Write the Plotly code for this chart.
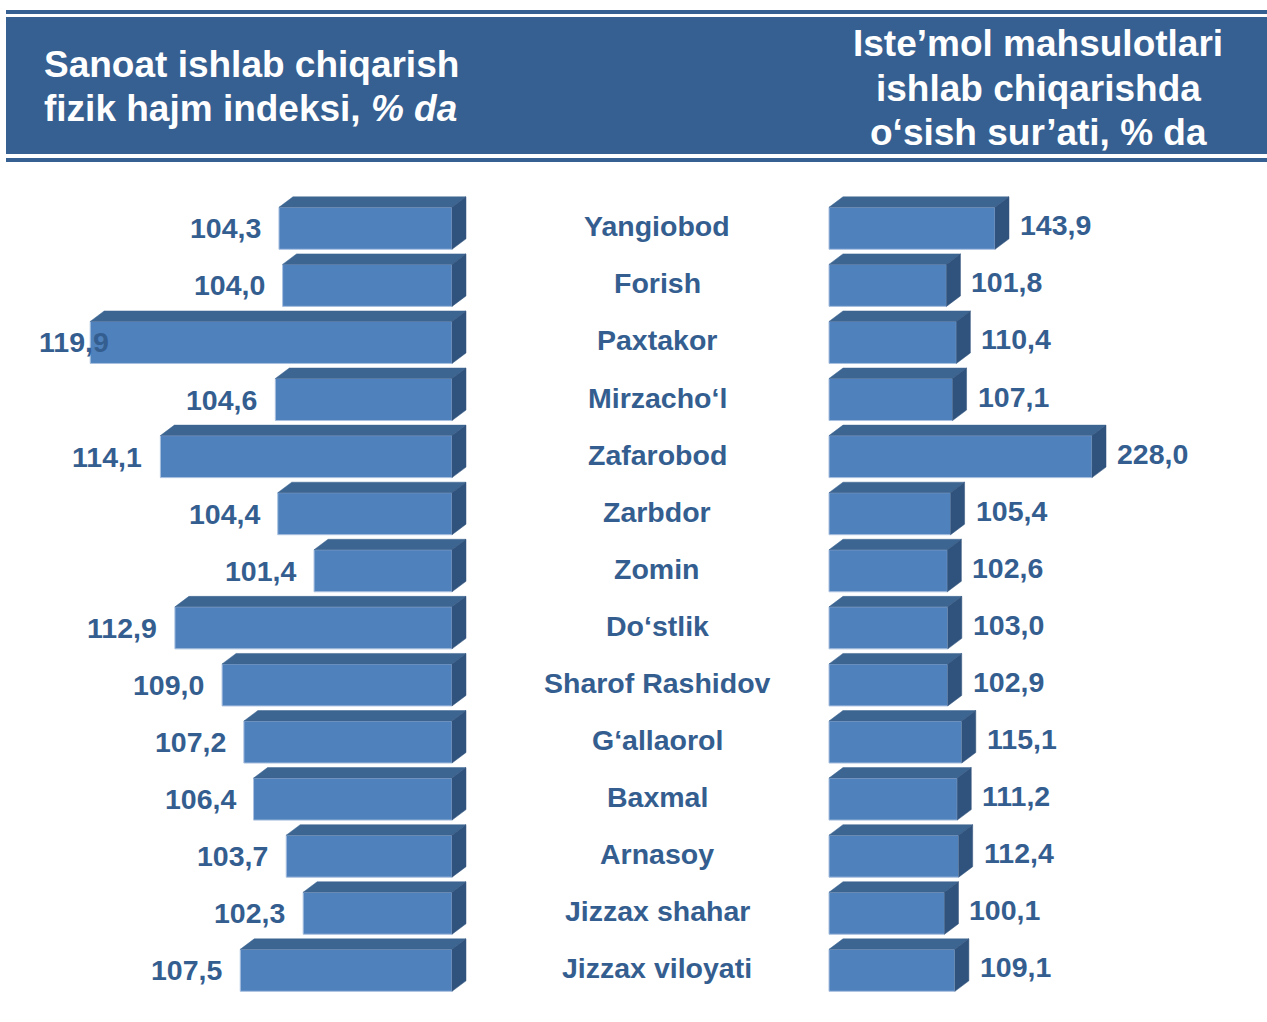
import plotly.graph_objects as go

# ---- data -------------------------------------------------------------
districts = [
    "Yangiobod", "Forish", "Paxtakor", "Mirzacho‘l", "Zafarobod", "Zarbdor",
    "Zomin", "Do‘stlik", "Sharof Rashidov", "G‘allaorol", "Baxmal",
    "Arnasoy", "Jizzax shahar", "Jizzax viloyati",
]
industry_index = [104.3, 104.0, 119.9, 104.6, 114.1, 104.4, 101.4,
                  112.9, 109.0, 107.2, 106.4, 103.7, 102.3, 107.5]
consumer_growth = [143.9, 101.8, 110.4, 107.1, 228.0, 105.4, 102.6,
                   103.0, 102.9, 115.1, 111.2, 112.4, 100.1, 109.1]
left_title = ["Sanoat ishlab chiqarish", "fizik hajm indeksi, <i>% da</i>"]
right_title = ["Iste’mol mahsulotlari", "ishlab chiqarishda", "o‘sish sur’ati, % da"]

# ---- layout geometry --------------------------------------------------
W, H = 1267, 1022
FONT = "Liberation Sans, Arial, sans-serif"
BANNER = "#366092"
FRONT = "#4F81BD"
TOP = "#3D6591"
SIDE = "#30537D"
EDGE = "#A9C0DF"
TXT = "#345E8F"
LABEL_SIZE = 28.5
TITLE_SIZE = 37

L_BASE, L_ORIGIN_PX, L_SCALE = 90.0, 452.0, 12.1     # left panel: grows leftwards
R_BASE, R_ORIGIN_PX, R_SCALE = 0.0, 829.0, 1.1536    # right panel: grows rightwards
ROW0_PX, ROW_PITCH, BAR_PX = 228.3, 57.08, 42.0
DX, DY = 14.0, 10.5                                   # 3-D depth in pixels

L_DOM = (0.0, 475.0 / W)
R_DOM = (760.0 / W, 1.0)
l_range = [L_BASE + L_ORIGIN_PX / L_SCALE, L_BASE - (L_DOM[1] * W - L_ORIGIN_PX) / L_SCALE]
r_range = [R_BASE + (R_DOM[0] * W - R_ORIGIN_PX) / R_SCALE, R_BASE + (W - R_ORIGIN_PX) / R_SCALE]
y_range = [(H - ROW0_PX) / ROW_PITCH, -ROW0_PX / ROW_PITCH]

bw = BAR_PX / ROW_PITCH
dy_u = DY / ROW_PITCH
dx_l = DX / L_SCALE
dx_r = DX / R_SCALE
rows = list(range(len(districts)))

fig = go.Figure()

# front faces
fig.add_trace(go.Bar(
    y=rows, x=[v - L_BASE for v in industry_index], base=L_BASE,
    orientation="h", width=bw, xaxis="x", yaxis="y",
    marker=dict(color=FRONT, line=dict(color=EDGE, width=1)),
    hoverinfo="skip", showlegend=False,
))
fig.add_trace(go.Bar(
    y=rows, x=[v - R_BASE for v in consumer_growth], base=R_BASE,
    orientation="h", width=bw, xaxis="x2", yaxis="y",
    marker=dict(color=FRONT, line=dict(color=EDGE, width=1)),
    hoverinfo="skip", showlegend=False,
))


def poly(pts):
    return "M " + " L ".join(f"{x},{y}" for x, y in pts) + " Z"


shapes = []
# 3-D top and side faces, left panel (depth goes right = toward smaller values)
for i, v in zip(rows, industry_index):
    t, b = i - bw / 2, i + bw / 2
    shapes.append(dict(type="path", xref="x", yref="y", fillcolor=TOP,
                       line=dict(color=TOP, width=0.5),
                       path=poly([(v, t), (L_BASE, t), (L_BASE - dx_l, t - dy_u), (v - dx_l, t - dy_u)])))
    shapes.append(dict(type="path", xref="x", yref="y", fillcolor=SIDE,
                       line=dict(color=SIDE, width=0.5),
                       path=poly([(L_BASE, t), (L_BASE - dx_l, t - dy_u), (L_BASE - dx_l, b - dy_u), (L_BASE, b)])))
# 3-D top and side faces, right panel
for i, v in zip(rows, consumer_growth):
    t, b = i - bw / 2, i + bw / 2
    shapes.append(dict(type="path", xref="x2", yref="y", fillcolor=TOP,
                       line=dict(color=TOP, width=0.5),
                       path=poly([(R_BASE, t), (v, t), (v + dx_r, t - dy_u), (R_BASE + dx_r, t - dy_u)])))
    shapes.append(dict(type="path", xref="x2", yref="y", fillcolor=SIDE,
                       line=dict(color=SIDE, width=0.5),
                       path=poly([(v, t), (v + dx_r, t - dy_u), (v + dx_r, b - dy_u), (v, b)])))

# header banner with rule lines
def band(y0_px, y1_px, x0_px=6, x1_px=W):
    return dict(type="rect", xref="paper", yref="paper", layer="above",
                x0=x0_px / W, x1=x1_px / W, y0=1 - y1_px / H, y1=1 - y0_px / H,
                fillcolor=BANNER, line=dict(width=0))

shapes += [band(10, 14), band(17, 154), band(158, 162)]

annotations = []


def fmt(v):
    return f"{v:.1f}".replace(".", ",")


label_font = dict(family=FONT, size=LABEL_SIZE, color=TXT)

# value labels, left panel
for i, v in zip(rows, industry_index):
    front_left_px = L_ORIGIN_PX - (v - L_BASE) * L_SCALE
    if front_left_px - 16 - 72 < 30:
        annotations.append(dict(x=37 / W, xref="paper", y=i, yref="y", xanchor="left",
                                text=f"<b>{fmt(v)}</b>", showarrow=False, font=label_font))
    else:
        annotations.append(dict(x=v, xref="x", y=i, yref="y", xanchor="right", xshift=-16,
                                text=f"<b>{fmt(v)}</b>", showarrow=False, font=label_font))

# value labels, right panel
for i, v in zip(rows, consumer_growth):
    annotations.append(dict(x=v, xref="x2", y=i, yref="y", xanchor="left", xshift=DX + 9,
                            yshift=3, text=f"<b>{fmt(v)}</b>", showarrow=False, font=label_font))

# district names in the middle column
for i, name in zip(rows, districts):
    annotations.append(dict(x=657 / W, xref="paper", y=i, yref="y", xanchor="center",
                            yshift=2, text=f"<b>{name}</b>", showarrow=False, font=label_font))

# header titles
for line, y_px in zip(left_title, [64, 109]):
    annotations.append(dict(x=42 / W, xref="paper", y=1 - y_px / H, yref="paper",
                            xanchor="left", yanchor="middle", text=f"<b>{line}</b>",
                            showarrow=False, font=dict(family=FONT, size=TITLE_SIZE, color="white")))
for line, y_px in zip(right_title, [43, 88, 132]):
    annotations.append(dict(x=1038 / W, xref="paper", y=1 - y_px / H, yref="paper",
                            xanchor="center", yanchor="middle", text=f"<b>{line}</b>",
                            showarrow=False, font=dict(family=FONT, size=TITLE_SIZE, color="white")))

hidden = dict(visible=False, showgrid=False, zeroline=False, fixedrange=True)
fig.update_layout(
    width=W, height=H, autosize=False,
    margin=dict(l=0, r=0, t=0, b=0),
    paper_bgcolor="white", plot_bgcolor="white",
    barmode="overlay",
    xaxis=dict(domain=list(L_DOM), range=l_range, anchor="y", **hidden),
    xaxis2=dict(domain=list(R_DOM), range=r_range, anchor="y", **hidden),
    yaxis=dict(domain=[0, 1], range=y_range, anchor="x", **hidden),
    shapes=shapes,
    annotations=annotations,
    showlegend=False,
)

fig.write_html("out.html")
